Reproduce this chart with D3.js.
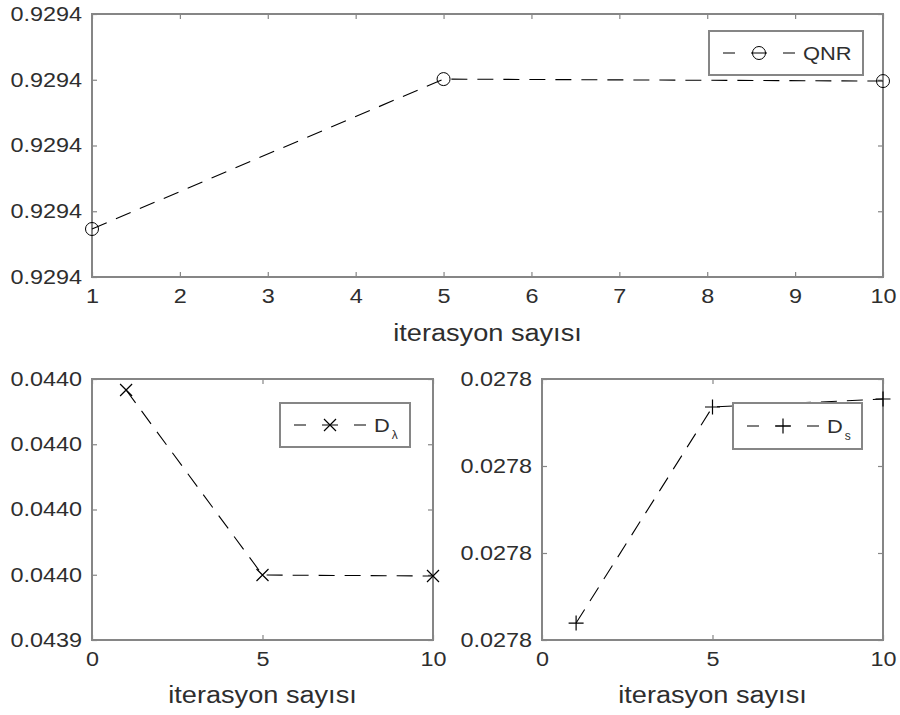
<!DOCTYPE html>
<html><head><meta charset="utf-8">
<script src="https://cdn.jsdelivr.net/npm/d3@7"></script>
<style>
body{margin:0;background:#fff;}
svg{display:block;font-family:"Liberation Sans",Arial,Helvetica,sans-serif;}
</style></head>
<body><svg id="c" width="900" height="715"></svg>
<script>
// ---- data ----
const topX = [1, 5, 10];
const qnr = [0.92940073, 0.92940301, 0.92940298];
const topXTicks = [1,2,3,4,5,6,7,8,9,10];
const topYTicks = [0.929400, 0.929401, 0.929402, 0.929403, 0.929404];

const dlX = [1, 5, 10];
const dLambda = [0.04401663, 0.04395992, 0.04395962];
const dlXTicks = [0, 5, 10];
const dlYTicks = [0.04394, 0.04396, 0.04398, 0.04400, 0.04402];

const dsX = [1, 5, 10];
const dS = [0.02778195, 0.02780678, 0.02780770];
const dsXTicks = [0, 5, 10];
const dsYTicks = [0.02778, 0.02779, 0.02780, 0.02781];

const xLabel = "iterasyon sayısı";

const svg = d3.select("#c");
svg.append("rect").attr("width",900).attr("height",715).attr("fill","#fff");
const AX = "#868686", TXT = "#2e2e2e";
const fmt = d3.format(".4f");

function stretch(sel, f){
  sel.each(function(){
    const w = this.getComputedTextLength();
    if(w>0){ d3.select(this).attr("textLength", w*f).attr("lengthAdjust","spacingAndGlyphs"); }
  });
}

function marker(g, type, x, y){
  if(type==="o"){
    g.append("circle").attr("cx",x).attr("cy",y).attr("r",6.5)
      .attr("fill","none").attr("stroke","#000").attr("stroke-width",1);
  } else if(type==="x"){
    const s=6;
    g.append("path").attr("d",`M${x-s},${y-s}L${x+s},${y+s}M${x-s},${y+s}L${x+s},${y-s}`)
      .attr("stroke","#000").attr("stroke-width",1.2).attr("fill","none");
  } else {
    const s=7.5;
    g.append("path").attr("d",`M${x-s},${y}L${x+s},${y}M${x},${y-s}L${x},${y+s}`)
      .attr("stroke","#000").attr("stroke-width",1.2).attr("fill","none");
  }
}

function panel(o){
  const g = svg.append("g");
  const x = d3.scaleLinear().domain(o.xd).range([o.x0,o.x1]);
  const y = d3.scaleLinear().domain(o.yd).range([o.y1,o.y0]);
  const ax = (axis, tr) => {
    const a = g.append("g").attr("transform",tr).call(axis);
    a.select(".domain").remove();
    a.selectAll(".tick line").attr("stroke",AX).attr("stroke-width",1.2);
    a.selectAll("text").attr("fill",TXT).style("font-size","19.5px").attr("font-family",null);
    return a;
  };
  const b = ax(d3.axisBottom(x).tickValues(o.xt).tickSize(-5).tickPadding(12).tickFormat(d3.format("d")), `translate(0,${o.y1})`);
  b.selectAll("text").attr("dy","0.71em");
  stretch(b.selectAll("text"), 1.2);
  ax(d3.axisTop(x).tickValues(o.xt).tickSize(-5).tickFormat(""), `translate(0,${o.y0})`);
  const l = ax(d3.axisLeft(y).tickValues(o.yt).tickSize(-5).tickPadding(10).tickFormat(fmt), `translate(${o.x0},0)`);
  stretch(l.selectAll("text"), 1.2);
  ax(d3.axisRight(y).tickValues(o.yt).tickSize(-5).tickFormat(""), `translate(${o.x1},0)`);
  g.append("rect").attr("x",o.x0).attr("y",o.y0).attr("width",o.x1-o.x0).attr("height",o.y1-o.y0)
    .attr("fill","none").attr("stroke",AX).attr("stroke-width",2);
  const xl = g.append("text").attr("x",(o.x0+o.x1)/2).attr("y",o.labY).attr("text-anchor","middle")
    .attr("fill",TXT).style("font-size","23px").text(xLabel);
  stretch(xl, 1.18);
  // data
  const pts = o.xs.map((d,i)=>[x(d), y(o.ys[i])]);
  g.append("path").attr("d",d3.line()(pts)).attr("fill","none").attr("stroke","#000")
    .attr("stroke-width",1.1).attr("stroke-dasharray","16,10");
  pts.forEach(p=>marker(g,o.mk,p[0],p[1]));
  // legend
  const L=o.leg;
  const lg = svg.append("g");
  lg.append("rect").attr("x",L.x).attr("y",L.y).attr("width",L.w).attr("height",L.h)
    .attr("fill","#fff").attr("stroke",AX).attr("stroke-width",2);
  const cy=L.y+L.h/2, lx=L.x+14;
  lg.append("path").attr("d",`M${lx},${cy}H${lx+12}M${lx+28},${cy}H${lx+44}M${lx+60},${cy}H${lx+72}`)
    .attr("stroke","#000").attr("stroke-width",1.1);
  marker(lg,o.mk,lx+36,cy);
  const t = lg.append("text").attr("x",lx+80).attr("y",cy+7).attr("fill",TXT).style("font-size","19px").text(L.main);
  stretch(t, 1.15);
  if(L.sub){
    const w = t.node().getBBox().width;
    lg.append("text").attr("x",lx+80+w+2).attr("y",cy+14).attr("fill",TXT).style("font-size","12px").text(L.sub);
  }
}

panel({x0:92,x1:883,y0:14,y1:277,xd:[1,10],yd:[0.929400,0.929404],xt:topXTicks,yt:topYTicks,
  xs:topX,ys:qnr,mk:"o",labY:341,leg:{x:709,y:31,w:154,h:44,main:"QNR"}});
panel({x0:92,x1:433,y0:379,y1:640,xd:[0,10],yd:[0.04394,0.04402],xt:dlXTicks,yt:dlYTicks,
  xs:dlX,ys:dLambda,mk:"x",labY:703,leg:{x:280,y:403,w:130,h:44,main:"D",sub:"λ"}});
panel({x0:542,x1:883,y0:379,y1:640,xd:[0,10],yd:[0.02778,0.02781],xt:dsXTicks,yt:dsYTicks,
  xs:dsX,ys:dS,mk:"+",labY:703,leg:{x:733,y:403,w:129,h:46,main:"D",sub:"s"}});
</script></body></html>
